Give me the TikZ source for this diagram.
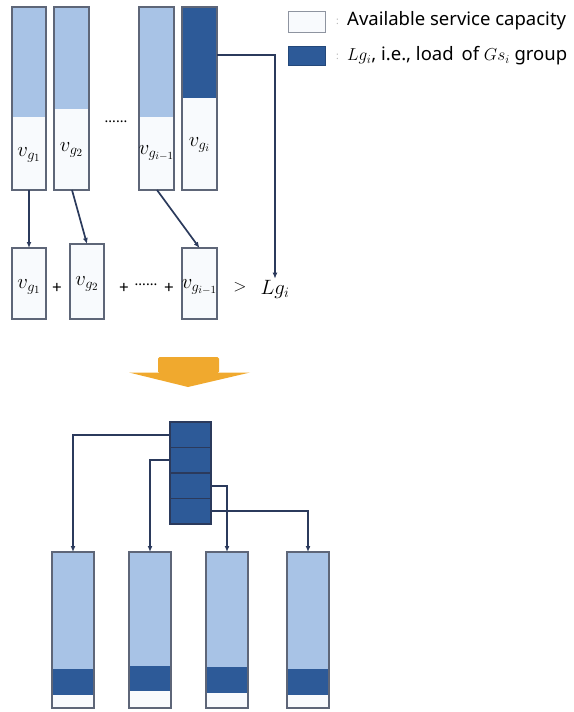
\documentclass[tikz,border=0pt]{standalone}
\usepackage{fontspec}
\setmainfont{Noto Sans}
\usetikzlibrary{arrows.meta,fit}
\definecolor{lightcap}{HTML}{A8C3E6}
\definecolor{darkload}{HTML}{2D5A98}
\definecolor{outline}{HTML}{5E6678}
\definecolor{conn}{HTML}{2B3A5C}
\definecolor{whitefill}{HTML}{F8FAFD}
\definecolor{bigarrow}{HTML}{F0A92E}
\begin{document}
\begin{tikzpicture}[x=1pt,y=-1pt,
  barbox/.style={draw=outline, line width=1.2pt, inner sep=0pt, outer sep=0pt},
  cell/.style={fill=darkload, draw=conn, line width=1.1pt, inner sep=0pt, outer sep=0pt},
  connector/.style={draw=conn, line width=1.7pt, -{Latex[length=6pt,width=5pt]}},
  mathlbl/.style={inner sep=1pt, font=\fontsize{21}{21}\selectfont},
  opsign/.style={inner sep=1pt, font=\fontsize{17}{17}\selectfont\bfseries},
  legendtxt/.style={anchor=west, inner sep=0pt, font=\fontsize{18.5}{18.5}\selectfont}]
\useasboundingbox (0,0) rectangle (573,712);

% ---------- top row: capacity bars ----------
\fill[whitefill] (12,7) rectangle (46,190);   \fill[lightcap] (12,7) rectangle (46,117);
\fill[whitefill] (54,7) rectangle (89,190);   \fill[lightcap] (54,7) rectangle (89,109);
\fill[whitefill] (139,7) rectangle (174,190); \fill[lightcap] (139,7) rectangle (174,117);
\fill[whitefill] (182,7) rectangle (217,190); \fill[darkload] (182,7) rectangle (217,98);
\node[barbox, fit={(12,7) (46,190)}] (t1) {};
\node[barbox, fit={(54,7) (89,190)}] (t2) {};
\node[barbox, fit={(139,7) (174,190)}] (t3) {};
\node[barbox, fit={(182,7) (217,190)}] (t4) {};
\foreach \n in {t1,t2,t3,t4}
  \draw[outline, line width=2pt] (\n.south west) -- (\n.south east);

\node[mathlbl] (l1) at (29,155) {$v_{g_1}$};
\node[mathlbl] (l2) at (71.5,150) {$v_{g_2}$};
\node[mathlbl] (l3) at (156.5,153) {$v_{g_{i-1}}$};
\node[mathlbl] (l4) at (199.5,145) {$v_{g_i}$};
\node[opsign, font=\fontsize{14}{14}\selectfont\bfseries] (tdots) at (116,122) {......};

% ---------- sum row ----------
\fill[whitefill] (12,248) rectangle (46,319);
\fill[whitefill] (70,244) rectangle (104,319);
\fill[whitefill] (182,248) rectangle (217,319);
\node[barbox, fit={(12,248) (46,319)}] (b1) {};
\node[barbox, fit={(70,244) (104,319)}] (b2) {};
\node[barbox, fit={(182,248) (217,319)}] (b3) {};
\foreach \n in {b1,b2,b3}
  \draw[outline, line width=2pt] (\n.south west) -- (\n.south east);

\node[mathlbl] (s1l) at (29,287) {$v_{g_1}$};
\node[mathlbl] (s2l) at (87,284) {$v_{g_2}$};
\node[mathlbl] (s3l) at (199.5,287) {$v_{g_{i-1}}$};
\node[opsign] (p1) at (57,288) {+};
\node[opsign] (p2) at (124,288) {+};
\node[opsign, font=\fontsize{14}{14}\selectfont\bfseries] (mdots) at (146,285) {......};
\node[opsign] (p3) at (169,288) {+};
\node[mathlbl, font=\fontsize{18}{18}\selectfont] (gt) at (240,287) {$>$};
\node[mathlbl, font=\fontsize{21}{21}\selectfont] (lg) at (275,289) {$Lg_i$};

\draw[connector] (t1.south) -- (b1.north);
\draw[connector] ([xshift=0.5pt]t2.south) -- (b2.north);
\draw[connector] ([xshift=0.5pt]t3.south) -- (b3.north);
\draw[connector] ([yshift=-48pt]t4.north east) -| (lg.north);

% ---------- big transition arrow ----------
\fill[bigarrow, rounded corners=1.5pt] (158,357) -- (219,357) -- (219,373) -- (158,373) -- cycle;
\fill[bigarrow] (129,372.5) -- (250,372.5) -- (188,387) -- cycle;

% ---------- load split into four parts ----------
\node[cell, fit={(170,422) (211,447.5)}] (k1) {};
\node[cell, fit={(170,447.5) (211,473)}] (k2) {};
\node[cell, fit={(170,473) (211,498.5)}] (k3) {};
\node[cell, fit={(170,498.5) (211,524)}] (k4) {};

% ---------- receiving bars ----------
\fill[whitefill] (52,552) rectangle (94,708);
\fill[lightcap] (52,552) rectangle (94,669); \fill[darkload] (52,669) rectangle (94,695);
\fill[whitefill] (129,552) rectangle (171,708);
\fill[lightcap] (129,552) rectangle (171,666); \fill[darkload] (129,666) rectangle (171,691);
\fill[whitefill] (206,552) rectangle (248,708);
\fill[lightcap] (206,552) rectangle (248,667); \fill[darkload] (206,667) rectangle (248,693);
\fill[whitefill] (287,552) rectangle (329,708);
\fill[lightcap] (287,552) rectangle (329,669); \fill[darkload] (287,669) rectangle (329,695);
\node[barbox, fit={(52,552) (94,708)}] (c1) {};
\node[barbox, fit={(129,552) (171,708)}] (c2) {};
\node[barbox, fit={(206,552) (248,708)}] (c3) {};
\node[barbox, fit={(287,552) (329,708)}] (c4) {};
\foreach \n in {c1,c2,c3,c4}
  \draw[outline, line width=2pt] (\n.south west) -- (\n.south east);

\draw[connector] (k1.west) -| (c1.north);
\draw[connector] (k2.west) -| (c2.north);
\draw[connector] (k3.east) -| (c3.north);
\draw[connector] (k4.east) -| (c4.north);

% ---------- legend ----------
\node[draw=outline!70, fill=whitefill, line width=1pt, inner sep=0pt, fit={(288,11) (325,32)}] (key1) {};
\node[draw=darkload!80!black, fill=darkload, line width=1pt, inner sep=0pt, fit={(288,46) (325,65)}] (key2) {};
\node[legendtxt, text=gray!60, font=\fontsize{10}{10}\selectfont] (k1c) at (336,22) {:};
\node[legendtxt, text=gray!60, font=\fontsize{10}{10}\selectfont] (k2c) at (336,57) {:};
\node[legendtxt] (key1txt) at (347,21) {Available service capacity};
\node[legendtxt] (key2txt) at (347,56) {$Lg_i$, i.e., load\, of $Gs_i$ group};
\end{tikzpicture}
\end{document}
